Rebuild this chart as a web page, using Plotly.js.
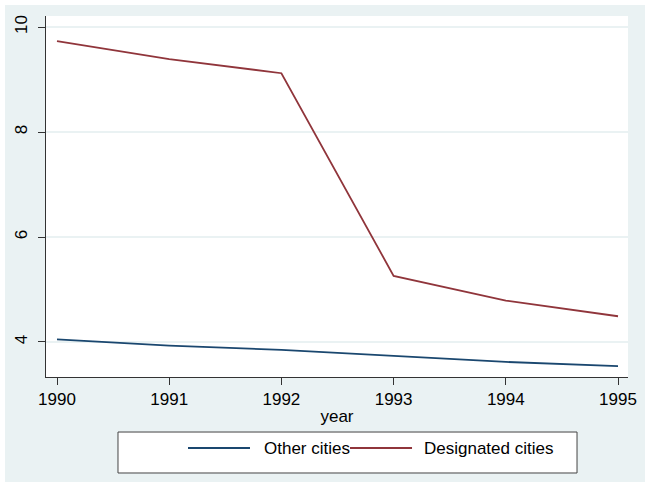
<!DOCTYPE html>
<html>
<head>
<meta charset="utf-8">
<script src="https://cdn.plot.ly/plotly-3.0.1.min.js"></script>
<style>html,body{margin:0;padding:0;background:#fff;}#chart{width:650px;height:488px;}</style>
</head>
<body>
<div id="chart"></div>
<script>
const years = [1990, 1991, 1992, 1993, 1994, 1995];
const otherCities = [4.05, 3.93, 3.85, 3.73, 3.62, 3.54];
const designatedCities = [9.73, 9.39, 9.12, 5.26, 4.79, 4.49];
const seriesNames = ['Other cities', 'Designated cities'];
const seriesColors = ['#1a476f', '#90353b'];
const yTicks = [4, 6, 8, 10];

const bg = '#eaf2f3';
const traces = [
  {x: years, y: otherCities, name: seriesNames[0], type: 'scatter', mode: 'lines',
   line: {color: seriesColors[0], width: 1.8}, showlegend: false},
  {x: years, y: designatedCities, name: seriesNames[1], type: 'scatter', mode: 'lines',
   line: {color: seriesColors[1], width: 1.8}, showlegend: false}
];

// legend drawn in paper coordinates (Stata-style long keys)
const legY = -0.1967;
const legendKeys = [
  {x0: 0.244, x1: 0.3505, tx: 0.3711},
  {x0: 0.5223, x1: 0.6289, tx: 0.6460}
];

const shapes = [
  {type: 'rect', xref: 'paper', yref: 'paper', x0: -0.0704, x1: 1.0292, y0: -0.2909, y1: 1.0305,
   fillcolor: bg, line: {width: 0}, layer: 'below'},
  {type: 'rect', xref: 'paper', yref: 'paper', x0: 0, x1: 1, y0: 0, y1: 1,
   fillcolor: '#ffffff', line: {width: 0}, layer: 'below'},
  {type: 'rect', xref: 'paper', yref: 'paper', x0: 0.1237, x1: 0.9124, y0: -0.2659, y1: -0.1524,
   fillcolor: '#ffffff', line: {color: '#444', width: 1}, layer: 'below'}
];
const annotations = [];
legendKeys.forEach((k, i) => {
  shapes.push({type: 'line', xref: 'paper', yref: 'paper', x0: k.x0, x1: k.x1, y0: legY, y1: legY,
    line: {color: seriesColors[i], width: 1.8}});
  annotations.push({xref: 'paper', yref: 'paper', x: k.tx, y: legY, xanchor: 'left', yanchor: 'middle',
    text: seriesNames[i], showarrow: false, font: {size: 17, color: '#000'}});
});

const layout = {
  width: 650, height: 488,
  margin: {l: 46, r: 22, t: 16, b: 111},
  paper_bgcolor: '#ffffff',
  plot_bgcolor: '#ffffff',
  font: {family: 'Liberation Sans, Arial, sans-serif', size: 17, color: '#000'},
  showlegend: false,
  xaxis: {
    range: [1989.902, 1995.089],
    tickvals: years, ticktext: years.map(String),
    ticks: 'outside', ticklen: 7, tickcolor: '#333', tickwidth: 1,
    showline: true, linecolor: '#333', linewidth: 1,
    showgrid: false, zeroline: false,
    title: {text: 'year', font: {size: 17}, standoff: 1},
    tickfont: {size: 17}
  },
  yaxis: {
    range: [3.333, 10.21],
    tickvals: yTicks, ticktext: yTicks.map(String),
    tickangle: -90,
    ticks: 'outside', ticklen: 7, tickcolor: '#333', tickwidth: 1,
    ticklabelstandoff: 4,
    showline: true, linecolor: '#333', linewidth: 1,
    showgrid: true, gridcolor: bg, gridwidth: 1.2, zeroline: false,
    tickfont: {size: 17}
  },
  shapes: shapes,
  annotations: annotations
};

Plotly.newPlot('chart', traces, layout, {staticPlot: true, displayModeBar: false});
</script>
</body>
</html>
